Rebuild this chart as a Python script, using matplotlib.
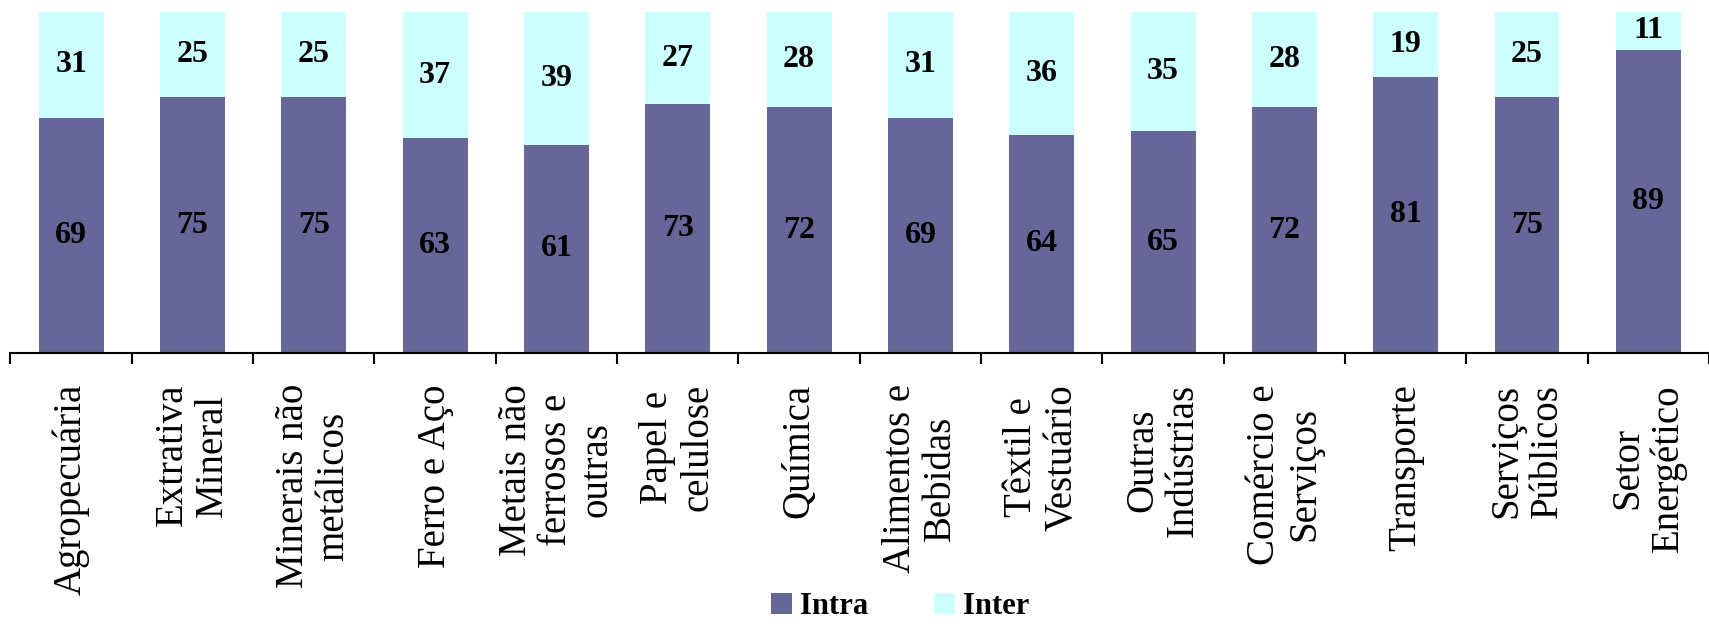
import matplotlib
matplotlib.use("Agg")
import matplotlib.pyplot as plt
import numpy as np

categorias = [
    "Agropecuária",
    "Extrativa\nMineral",
    "Minerais não\nmetálicos",
    "Ferro e Aço",
    "Metais não\nferrosos e\noutras",
    "Papel e\ncelulose",
    "Química",
    "Alimentos e\nBebidas",
    "Têxtil e\nVestuário",
    "Outras\nIndústrias",
    "Comércio e\nServiços",
    "Transporte",
    "Serviços\nPúblicos",
    "Setor\nEnergético",
]
intra = [69, 75, 75, 63, 61, 73, 72, 69, 64, 65, 72, 81, 75, 89]
inter = [31, 25, 25, 37, 39, 27, 28, 31, 36, 35, 28, 19, 25, 11]

cor_intra = "#666699"
cor_inter = "#CCFFFF"

plt.rcParams["font.family"] = ["Liberation Serif", "DejaVu Serif"]

W, H = 1709, 629
fig = plt.figure(figsize=(W / 100, H / 100), dpi=100)
# eixo: x de 10.5 px ate a borda, y de 353 px (base) a 12 px (100%)
ax = fig.add_axes([10.5 / W, (H - 353) / H, (W - 10.5) / W, (353 - 12) / H])

x = np.arange(len(categorias))
larg = 0.535
b1 = ax.bar(x, intra, larg, color=cor_intra, label="Intra")
b2 = ax.bar(x, inter, larg, bottom=intra, color=cor_inter, label="Inter")

for i in range(len(x)):
    ax.text(x[i], intra[i] / 2, str(intra[i]), ha="center", va="center",
            fontsize=23, fontweight="bold")
    ax.text(x[i], intra[i] + inter[i] / 2, str(inter[i]), ha="center",
            va="center", fontsize=23, fontweight="bold")

ax.set_xlim(-0.5, -0.5 + (W - 10.5) / 122.0)
ax.set_ylim(0, 100)

for s in ["top", "right", "left"]:
    ax.spines[s].set_visible(False)
ax.spines["bottom"].set_linewidth(1.5)
ax.set_yticks([])
ax.set_xticks(np.arange(len(categorias) + 1) - 0.5)
ax.set_xticklabels([])
ax.tick_params(axis="x", direction="out", length=8, width=1.5)

# rotulos das categorias
for i, nome in enumerate(categorias):
    ax.annotate(nome, xy=(x[i], 0), xycoords=("data", "axes fraction"),
                xytext=(0, -(384 - 353) * 0.72), textcoords="offset points",
                rotation=90, ha="center", va="top", multialignment="center",
                fontsize=28, linespacing=1.12)

fig.legend(handles=[b1, b2], loc="lower center", ncol=2,
           bbox_to_anchor=(900 / W, -0.012), frameon=False,
           prop={"size": 22, "weight": "bold"}, handlelength=0.68,
           handleheight=0.7, handletextpad=0.26, columnspacing=2.16,
           borderpad=0.0)

fig.savefig("out.png", dpi=100)
